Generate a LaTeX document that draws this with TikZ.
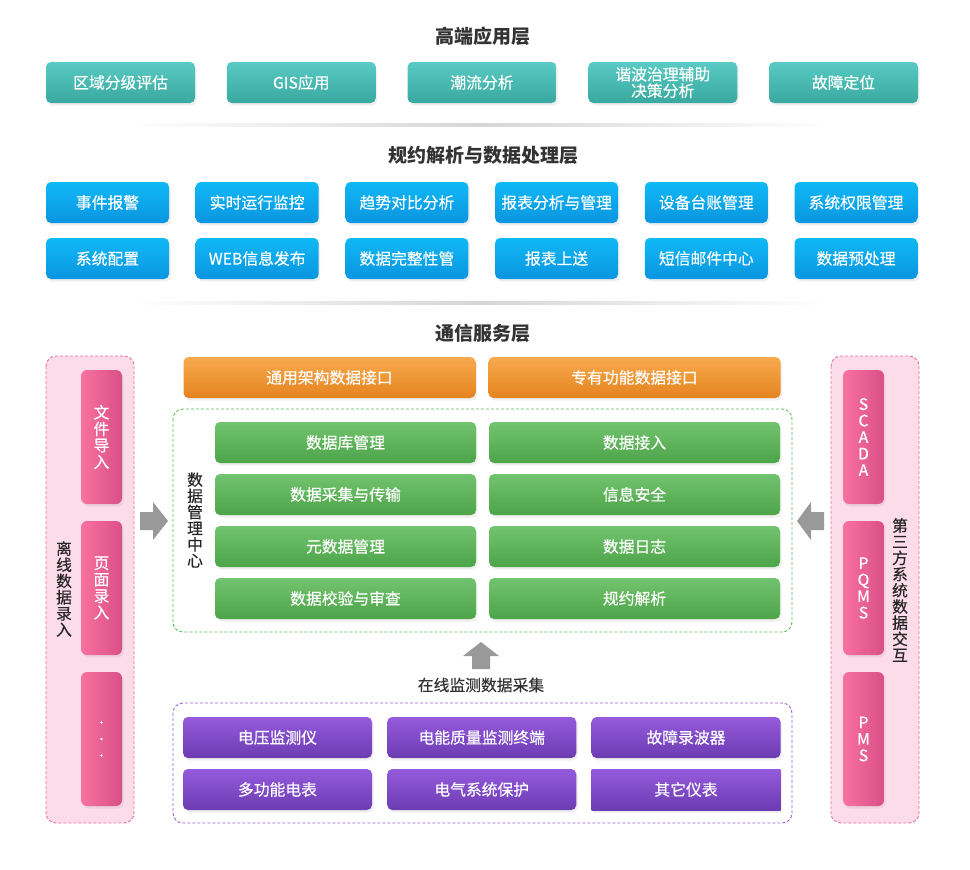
\documentclass[tikz,border=0pt]{standalone}
\usepackage{fontspec}
\setmainfont{Noto Sans CJK SC}
\newfontfamily\labelfont[FakeBold=0.35]{Noto Sans CJK SC}
\usetikzlibrary{shadows}
\definecolor{tealT}{HTML}{58CBC4}\definecolor{tealB}{HTML}{3AA89F}
\definecolor{blueT}{HTML}{10B9F6}\definecolor{blueB}{HTML}{0A95E0}
\definecolor{orT}{HTML}{F7AA4D}\definecolor{orB}{HTML}{E5831F}
\definecolor{grT}{HTML}{72C46E}\definecolor{grB}{HTML}{4DA449}
\definecolor{puT}{HTML}{955ADD}\definecolor{puB}{HTML}{6C3CB1}
\definecolor{pkL}{HTML}{F8729F}\definecolor{pkR}{HTML}{D94F88}
\definecolor{pkFill}{HTML}{FDDCE9}\definecolor{pkLine}{HTML}{E96F9C}
\definecolor{grLine}{HTML}{5DBA5A}\definecolor{puLine}{HTML}{9563DE}
\definecolor{ink}{HTML}{333333}
\begin{document}
\begin{tikzpicture}[x=1pt,y=-1pt,
    box/.style={rounded corners=5pt,minimum height=41pt,inner sep=0pt,align=center,text=white,
      font=\labelfont\fontsize{15.8}{16.5}\selectfont,
      drop shadow={opacity=.13,shadow xshift=1.5pt,shadow yshift=-2.5pt}},
    tealbox/.style={box,minimum width=149pt,top color=tealT,bottom color=tealB},
    bluebox/.style={box,minimum width=123pt,top color=blueT,bottom color=blueB},
    orbox/.style={box,minimum width=292pt,top color=orT,bottom color=orB},
    grbox/.style={box,top color=grT,bottom color=grB},
    pubox/.style={box,minimum width=189pt,top color=puT,bottom color=puB},
    bar/.style={box,minimum width=41pt,minimum height=134pt,rounded corners=6pt,left color=pkL,right color=pkR},
    layer/.style={font=\bfseries\fontsize{19}{22}\selectfont,text=ink},
    vlabel/.style={align=center,inner sep=0pt,text=black!85,font=\labelfont\fontsize{15.8}{16.2}\selectfont},
    frame/.style={rounded corners=10pt,dash pattern=on 3pt off 2pt,line width=.9pt},
    sep/.style={left color=white,right color=white,middle color=black!16},
    blockarrow/.style={fill=black!40}]
\useasboundingbox (0,0) rectangle (970,870);
\node[layer] (layA) at (483,36) {高端应用层};
\node[layer] (layB) at (483,155) {规约解析与数据处理层};
\node[layer] (layC) at (483,333) {通信服务层};
\shade[sep] (130,123.5) rectangle (830,126.5);
\shade[sep] (130,301.5) rectangle (830,304.5);
\foreach \t [count=\i from 0] in {区域分级评估,GIS应用,潮流分析,{谐波治理辅助\\决策分析},故障定位}
  \node[tealbox] (app\i) at (120.5+180.75*\i,82.5) {\t};
\foreach \t [count=\i from 0] in {事件报警,实时运行监控,趋势对比分析,报表分析与管理,设备台账管理,系统权限管理}
  \node[bluebox] (proA\i) at (107.5+149.7*\i,202.5) {\t};
\foreach \t [count=\i from 0] in {系统配置,WEB信息发布,数据完整性管,报表上送,短信邮件中心,数据预处理}
  \node[bluebox] (proB\i) at (107.5+149.7*\i,258.5) {\t};
\draw[frame,pkLine,fill=pkFill] (46,356) rectangle (134,823);
\draw[frame,pkLine,fill=pkFill] (831,356) rectangle (919,823);
\draw[frame,grLine] (173,409) rectangle (792,632);
\draw[frame,puLine] (173,703) rectangle (792,823);
\foreach \t [count=\i from 0] in {{文\\件\\导\\入},{页\\面\\录\\入},{.\\.\\.}}
  \node[bar] (offl\i) at (101.5,437+151*\i) {\t};
\foreach \t [count=\i from 0] in {{S\\C\\A\\D\\A},{P\\Q\\M\\S},{P\\M\\S}}
  \node[bar] (third\i) at (863.5,437+151*\i) {\t};
\node[vlabel] (offlab) at (64,589) {离\\线\\数\\据\\录\\入};
\node[vlabel] (thirdlab) at (900,590) {第\\三\\方\\系\\统\\数\\据\\交\\互};
\node[vlabel] (dmclab) at (195,520) {数\\据\\管\\理\\中\\心};
\node[orbox] (ifA) at (329.5,377.5) {通用架构数据接口};
\node[orbox] (ifB) at (634.5,377.5) {专有功能数据接口};
\foreach \t [count=\i from 0] in {数据库管理,数据采集与传输,元数据管理,数据校验与审查}
  \node[grbox,minimum width=261pt] (dmL\i) at (345.5,442.5+52*\i) {\t};
\foreach \t [count=\i from 0] in {数据接入,信息安全,数据日志,规约解析}
  \node[grbox,minimum width=291pt] (dmR\i) at (634.5,442.5+52*\i) {\t};
\fill[blockarrow] (140,512) -- (153,512) -- (153,502) -- (168,521) -- (153,540) -- (153,530) -- (140,530) -- cycle;
\fill[blockarrow] (824,512) -- (811,512) -- (811,502) -- (797,521) -- (811,540) -- (811,530) -- (824,530) -- cycle;
\fill[blockarrow] (472,669) -- (472,656) -- (463,656) -- (481,642) -- (499,656) -- (490,656) -- (490,669) -- cycle;
\node[text=ink,font=\labelfont\fontsize{15.8}{18}\selectfont] (online) at (481,685) {在线监测数据采集};
\foreach \t [count=\i from 0] in {电压监测仪,电能质量监测终端,故障录波器}
  \node[pubox] (devA\i) at (277.5+204.25*\i,737.5) {\t};
\foreach \t [count=\i from 0] in {多功能电表,电气系统保护}
  \node[pubox] (devB\i) at (277.5+204.25*\i,789.5) {\t};
\node[pubox,rounded corners=0pt] (devB2) at (686,789.5) {其它仪表};
\end{tikzpicture}
\end{document}
